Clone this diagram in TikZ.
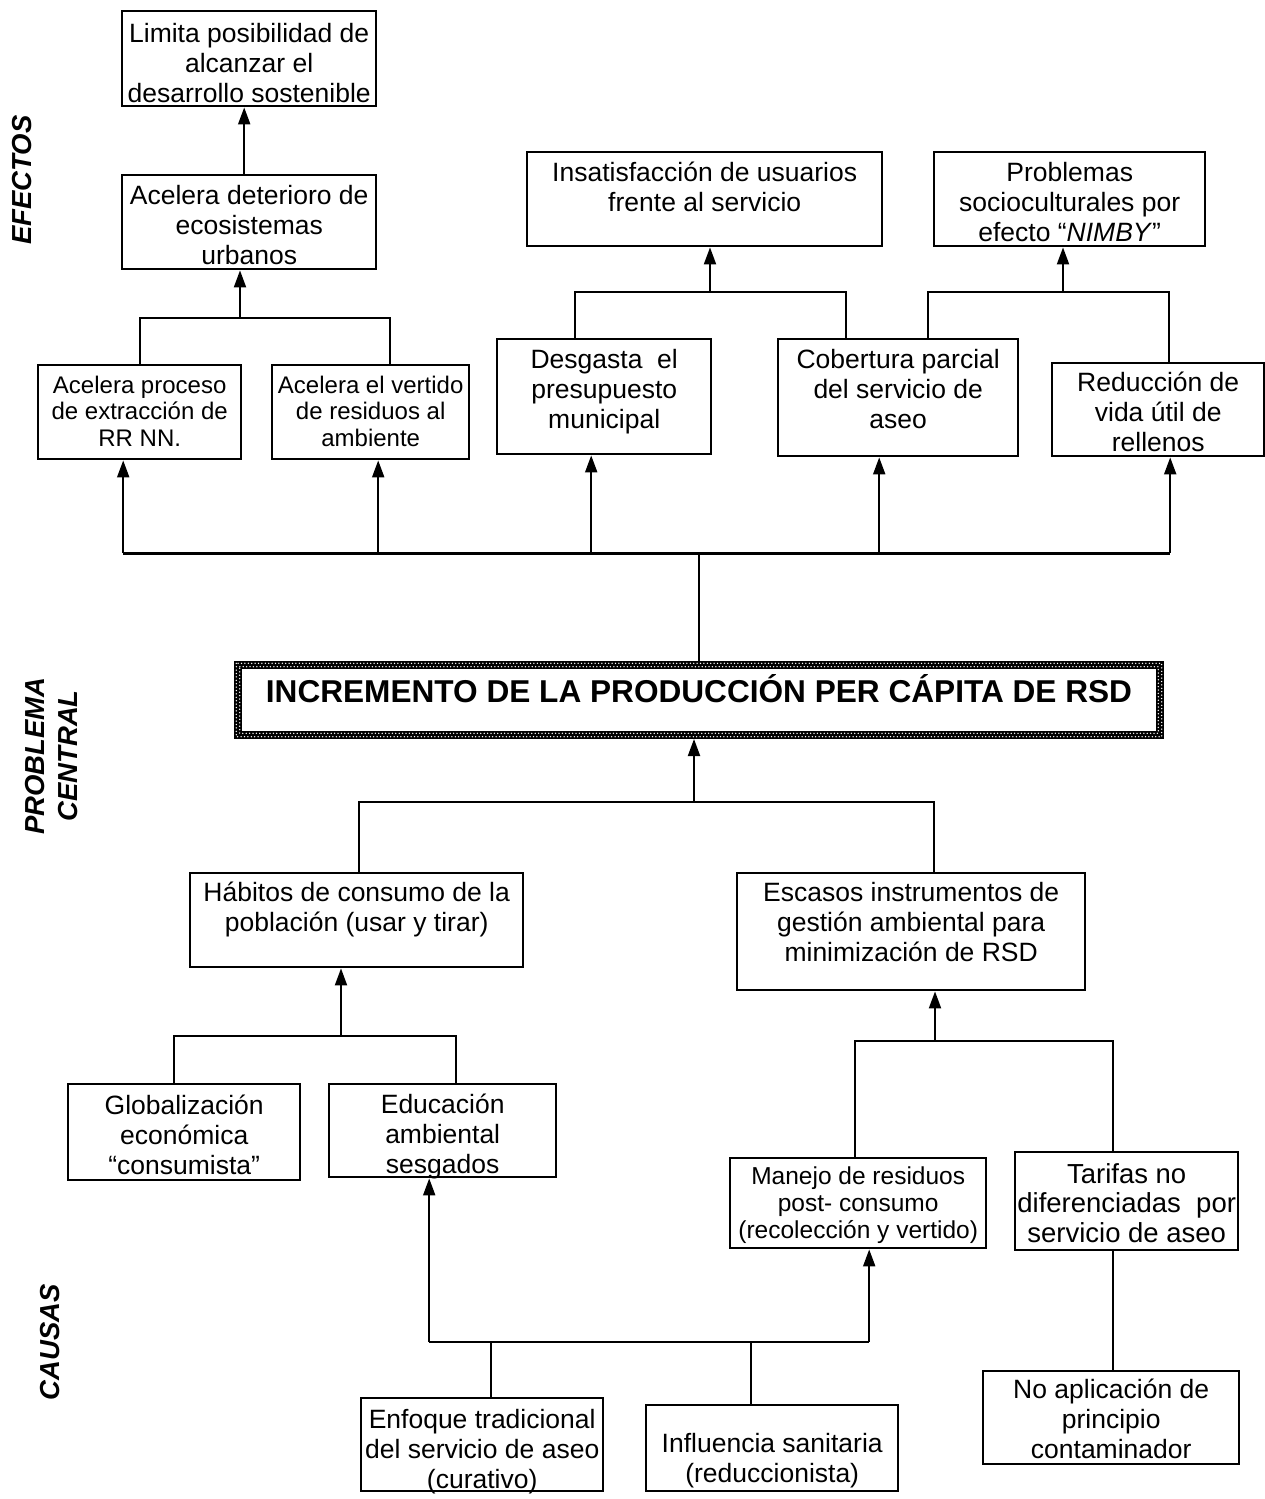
\documentclass[tikz,border=0pt]{standalone}
\usepackage{fontspec}
\setmainfont{Liberation Sans}
\usetikzlibrary{arrows.meta}
\newcommand\cell[4]{\begin{minipage}[c][#2pt][t]{#1pt}\vspace*{\dimexpr#3pt-\ht\strutbox\relax}\centering\strut#4\end{minipage}}
\begin{document}
\begin{tikzpicture}[x=1pt,y=-1pt,
  box/.style={draw, line width=2.4pt, inner sep=0pt, anchor=north west, font=\fontsize{26.5}{30}\selectfont},
  smallbox/.style={box, font=\fontsize{24}{26.5}\selectfont},
  conn/.style={line width=2pt},
  arr/.style={line width=2pt, -{Triangle[width=12pt,length=17pt]}},
  side/.style={font=\fontsize{27.5}{33}\selectfont\bfseries\itshape, rotate=90, align=center, inner sep=0pt}]
\useasboundingbox (0,0) rectangle (1265,1499);

% side labels
\node[side] (efe) at (22,180) {EFECTOS};
\node[side] (pc) at (52,756) {PROBLEMA\\CENTRAL};
\node[side] (cau) at (50,1342) {CAUSAS};

% effects
\node[box] (lim) at (121,10) {\cell{254}{95}{31}{Limita posibilidad de\\alcanzar el\\desarrollo sostenible}};
\node[box] (ad) at (121,174) {\cell{254}{94}{29}{Acelera deterioro de\\ecosistemas\\urbanos}};
\node[smallbox] (ap) at (37,364) {\cell{203}{94}{28}{Acelera proceso\\de extracción de\\RR NN.}};
\node[smallbox] (av) at (271,364) {\cell{197}{94}{28}{Acelera el vertido\\de residuos al\\ambiente}};
\node[box] (ins) at (526,151) {\cell{355}{94}{29}{Insatisfacción de usuarios\\frente al servicio}};
\node[box] (prob) at (933,151) {\cell{271}{94}{29}{Problemas\\socioculturales por\\efecto “\textit{NIMBY}”}};
\node[box] (desg) at (496,338) {\cell{214}{115}{29}{Desgasta\ \ el\\presupuesto\\municipal}};
\node[box] (cob) at (777,338) {\cell{240}{117}{29}{Cobertura parcial\\del servicio de\\aseo}};
\node[box] (red) at (1051,362) {\cell{212}{93}{28}{Reducción de\\vida útil de\\rellenos}};

% central problem
\node[draw, line width=8pt, inner sep=0pt, anchor=north west, font=\fontsize{31.6}{36}\selectfont\bfseries] (cen) at (234,661)
  {\begin{minipage}[c][70pt][t]{922pt}\vspace*{7pt}\centering\rule{0pt}{30pt}INCREMENTO DE LA PRODUCCIÓN PER CÁPITA DE RSD\end{minipage}};
\draw[white, line width=1.5pt, dash pattern=on 0pt off 3.4pt, line cap=round]
  ([shift={(2.3,2.3)}]cen.north west) rectangle ([shift={(-2.3,-2.3)}]cen.south east);
\draw[white, line width=1.5pt, dash pattern=on 0pt off 3.4pt, dash phase=1.7pt, line cap=round]
  ([shift={(5.7,5.7)}]cen.north west) rectangle ([shift={(-5.7,-5.7)}]cen.south east);

% causes
\node[box] (hab) at (189,872) {\cell{333}{94}{28}{Hábitos de consumo de la\\población (usar y tirar)}};
\node[box] (esc) at (736,872) {\cell{348}{117}{28}{Escasos instrumentos de\\gestión ambiental para\\minimización de RSD}};
\node[box] (glob) at (67,1083) {\cell{232}{96}{30}{Globalización\\económica\\“consumista”}};
\node[box] (edu) at (328,1083) {\cell{227}{93}{29}{Educación\\ambiental\\sesgados}};
\node[box, font=\fontsize{24.5}{27}\selectfont] (man) at (729,1157) {\cell{256}{90}{26}{Manejo de residuos\\post- consumo\\(recolección y vertido)}};
\node[box, font=\fontsize{27.5}{29.5}\selectfont] (tar) at (1014,1151) {\cell{223}{98}{31}{Tarifas no\\diferenciadas\ \ por\\servicio de aseo}};
\node[box] (noa) at (982,1370) {\cell{256}{93}{27}{No aplicación de\\principio\\contaminador}};
\node[box] (enf) at (360,1397) {\cell{242}{93}{30}{Enfoque tradicional\\del servicio de aseo\\(curativo)}};
\node[box] (inf) at (645,1404) {\cell{252}{86}{47}{Influencia sanitaria\\(reduccionista)}};

% connectors: effects
\draw[arr] ([xshift=-5pt]ad.north) -- ([xshift=-5pt]lim.south);
\coordinate (j1) at (240,318);
\draw[conn] (ap.north) |- (j1) -| ([xshift=19.5pt]av.north);
\draw[arr] (j1) -- (ad.south -| j1);
\coordinate (j2) at (710,292);
\draw[conn] ([xshift=79pt]desg.north west) |- (j2) -| ([xshift=69pt]cob.north west);
\draw[arr] (j2) -- (ins.south -| j2);
\coordinate (j3) at (1063,292);
\draw[conn] ([xshift=151pt]cob.north west) |- (j3) -| ([xshift=118pt]red.north west);
\draw[arr] (j3) -- (prob.south -| j3);

\coordinate (bus) at (696,553);
\draw[conn] (cen.north) -- (cen.north |- bus);
\coordinate (a1) at ([xshift=-16.5pt]ap.south);
\coordinate (a2) at ([xshift=7.5pt]av.south);
\coordinate (a3) at ([xshift=-13pt]desg.south);
\coordinate (a4) at ([xshift=-19pt]cob.south);
\coordinate (a5) at ([xshift=12pt]red.south);
\draw[line width=3pt] (a1 |- bus) -- (a5 |- bus);
\foreach \a in {a1,a2,a3,a4,a5} \draw[arr] (\a |- bus) -- (\a);

% connectors: causes
\coordinate (j4) at (694,802);
\draw[arr] (j4) -- (cen.south -| j4);
\draw[conn] ([xshift=2.5pt]hab.north) |- (j4) -| ([xshift=23pt]esc.north);
\coordinate (j5) at (341,1036);
\draw[arr] (j5) -- (hab.south -| j5);
\draw[conn] ([xshift=-10pt]glob.north) |- (j5) -| ([xshift=13.5pt]edu.north);
\coordinate (j6) at (935,1041);
\draw[arr] (j6) -- (esc.south -| j6);
\draw[conn] ([xshift=-3pt]man.north) |- (j6) -| ([xshift=-13.5pt]tar.north);
\coordinate (t1) at ([xshift=-13.5pt]tar.south);
\draw[conn] (t1) -- (t1 |- noa.north);

\coordinate (bb) at (650,1342);
\coordinate (e1) at ([xshift=-13.5pt]edu.south);
\coordinate (m1) at ([xshift=11pt]man.south);
\draw[conn] (e1 |- bb) -- (m1 |- bb);
\draw[arr] (e1 |- bb) -- (e1);
\draw[arr] (m1 |- bb) -- (m1);
\coordinate (f1) at ([xshift=9pt]enf.north);
\coordinate (g1) at ([xshift=-21pt]inf.north);
\draw[conn] (f1) -- (f1 |- bb);
\draw[conn] (g1) -- (g1 |- bb);
\end{tikzpicture}
\end{document}
